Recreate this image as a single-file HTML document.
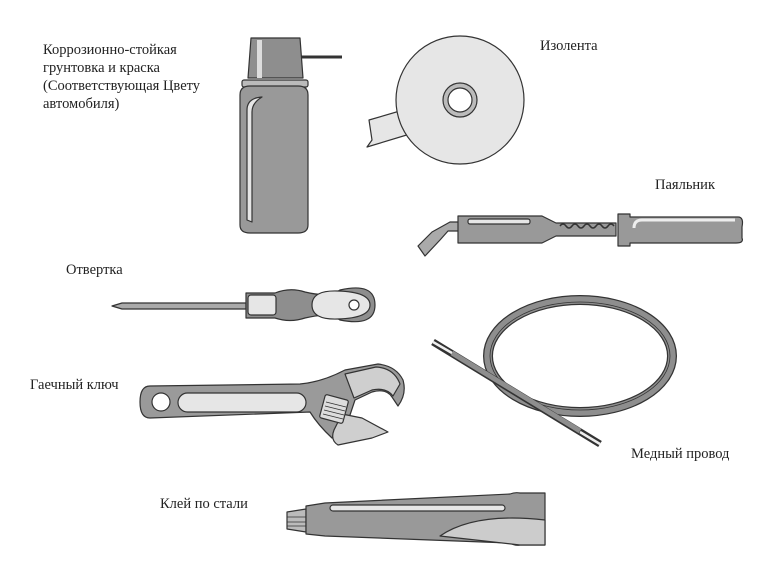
<!DOCTYPE html>
<html><head><meta charset="utf-8"><style>
body{margin:0;background:#fff;}
svg{display:block}
text{font-family:"Liberation Serif","Noto Serif CJK SC",serif;font-size:14.5px;fill:#222}
</style></head><body>
<svg width="780" height="565" viewBox="0 0 780 565" xmlns="http://www.w3.org/2000/svg">
<g stroke="#333" stroke-width="1.2" stroke-linejoin="round">
<line x1="298" y1="57" x2="342" y2="57" stroke="#333" stroke-width="3"/>
<path d="M251 38 H300 L303 78 H248 Z" fill="#8e8e8e"/>
<rect x="257" y="40" width="5" height="38" fill="#ddd" stroke="none"/>
<rect x="242" y="80" width="66" height="7" rx="2" fill="#bbb"/>
<path d="M240 95 Q240 86 250 86 H298 Q308 86 308 95 V225 Q308 233 298 233 H250 Q240 233 240 225 Z" fill="#999"/>
<path d="M247 220 V110 Q247 98 262 97 Q252 103 252 112 V222 Z" fill="#e6e6e6"/>
<path d="M410 108 L369 120 L372 140 L367 147 L410 134 Z" fill="#e6e6e6"/>
<circle cx="460" cy="100" r="64" fill="#e6e6e6"/>
<circle cx="460" cy="100" r="17" fill="#bbb"/>
<circle cx="460" cy="100" r="12" fill="#fff"/>
<path d="M418 246 L432 232 L450 222 H460 V231 H448 L440 240 L425 256 Z" fill="#aaa"/>
<path d="M458 216 H542 L556 223 H616 V236 H556 L542 243 H458 Z" fill="#999"/>
<rect x="468" y="219" width="62" height="5" rx="2" fill="#e6e6e6"/>
<path d="M560 226 q3 -4 6 0 q3 4 6 0 q3 -4 6 0 q3 4 6 0 q3 -4 6 0 q3 4 6 0 q3 -4 6 0 q3 4 6 0 q3 -4 6 0" fill="none" stroke-width="1.5"/>
<path d="M618 214 H630 V217 H738 Q744 217 742 227 V238 Q744 243 736 243 H630 V246 H618 Z" fill="#999"/>
<path d="M634 228 Q634 220 642 220 H735" fill="none" stroke="#eee" stroke-width="3"/>
<path d="M112 306 L122 303 H246 V309 H122 Z" fill="#aaa"/>
<path d="M246 293 H275 Q290 287 305 292 Q330 298 340 290 Q375 282 375 305 Q375 327 340 320 Q330 312 305 318 Q290 323 275 318 H246 Z" fill="#8e8e8e"/>
<rect x="248" y="295" width="28" height="20" rx="3" fill="#e6e6e6"/>
<path d="M312 305 Q312 290 338 291 Q370 292 370 305 Q370 318 338 319 Q312 320 312 305 Z" fill="#e6e6e6"/>
<circle cx="354" cy="305" r="5" fill="#fff"/>
<path d="M150 386 L300 384 Q322 382 345 370 L378 364 Q396 366 403 380 Q407 394 398 406 L392 397 Q386 388 372 392 L355 400 L350 415 L340 436 L332 438 Q318 425 310 412 L150 418 Q140 418 140 402 Q140 386 150 386 Z" fill="#9a9a9a"/>
<path d="M345 374 L376 367 Q394 368 400 384 L393 396 Q386 387 372 390 L354 398 Z" fill="#cfcfcf"/>
<path d="M342 414 L362 418 L388 432 L372 438 L338 445 Q330 440 334 430 Z" fill="#cfcfcf"/>
<circle cx="161" cy="402" r="9" fill="#fff"/>
<rect x="178" y="393" width="128" height="19" rx="9.5" fill="#e6e6e6"/>
<rect x="322" y="397" width="24" height="24" rx="2" fill="#ddd" transform="rotate(15 334 409)"/>
<path d="M326 402 l20 5 M325 406 l20 5 M324 410 l20 5 M323 414 l20 5" stroke-width="0.8"/>
<ellipse cx="580" cy="356" rx="92" ry="56" fill="none" stroke="#333" stroke-width="10"/>
<ellipse cx="580" cy="356" rx="92" ry="56" fill="none" stroke="#8e8e8e" stroke-width="7.5"/>
<ellipse cx="580" cy="356" rx="90" ry="54" fill="none" stroke="#333" stroke-width="0.8"/>
<line x1="433" y1="342" x2="600" y2="444" stroke="#333" stroke-width="7"/>
<line x1="452" y1="353" x2="580" y2="431" stroke="#8e8e8e" stroke-width="5"/>
<line x1="433" y1="342" x2="452" y2="353" stroke="#eee" stroke-width="2.5"/>
<line x1="580" y1="432" x2="600" y2="444" stroke="#eee" stroke-width="2.5"/>
<path d="M287 512 L306 509 V532 L287 529 Z" fill="#bbb"/>
<path d="M287 517 H306 M287 522 H306 M287 526 H306" stroke-width="0.8"/>
<path d="M306 506 L325 503 L510 494 Q515 492 520 493 H545 V545 H520 Q515 546 510 543 L325 536 L306 534 Z" fill="#999"/>
<rect x="330" y="505" width="175" height="6" rx="3" fill="#e6e6e6"/>
<path d="M440 536 Q475 512 545 520 V545 H520 Z" fill="#ccc"/>
</g>
<text x="43" y="54">Коррозионно-стойкая</text>
<text x="43" y="72">грунтовка и краска</text>
<text x="43" y="90">(Соответствующая Цвету</text>
<text x="43" y="108">автомобиля)</text>
<text x="540" y="50">Изолента</text>
<text x="655" y="189">Паяльник</text>
<text x="66" y="274">Отвертка</text>
<text x="30" y="389">Гаечный ключ</text>
<text x="631" y="458">Медный провод</text>
<text x="160" y="508">Клей по стали</text>
</svg>
</body></html>
